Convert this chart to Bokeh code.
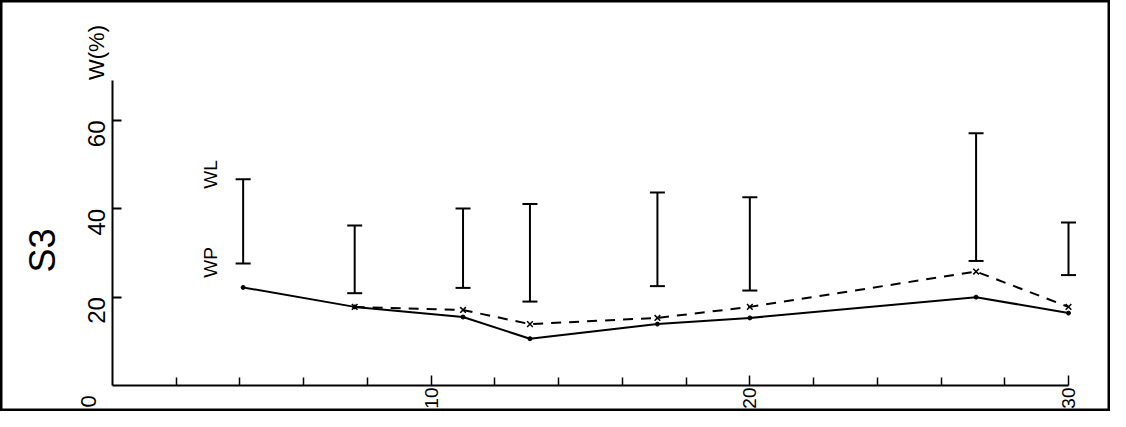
import math
from bokeh.plotting import figure
from bokeh.models import (ColumnDataSource, LinearAxis, FixedTicker, Whisker,
                          TeeHead, Range1d)
from bokeh.core.properties import value
from bokeh.embed import file_html
from bokeh.resources import INLINE

# ---- data ----
days = [4.1, 7.6, 11.0, 13.1, 17.1, 20.0, 27.1, 30.0]
wl = [46.7, 36.2, 40.1, 41.1, 43.7, 42.6, 57.1, 36.9]      # liquid limit (top of bar)
wp = [27.6, 20.9, 22.1, 19.0, 22.5, 21.5, 28.2, 25.0]      # plastic limit (bottom of bar)
w_solid = [22.2, 17.8, 15.5, 10.6, 13.9, 15.3, 20.0, 16.4]
w_dash_days = [7.6, 11.0, 13.1, 17.1, 20.0, 27.1, 30.0]
w_dash = [17.8, 17.1, 13.9, 15.3, 17.8, 25.8, 17.8]

x_major = [10, 20, 30]
x_minor = [2, 4, 6, 8, 12, 14, 16, 18, 22, 24, 26, 28]
y_major = [20, 40, 60]

FONT = "Liberation Sans"

p = figure(width=1110, height=411, output_backend="svg", toolbar_location=None,
           x_axis_type=None, y_axis_type=None,
           x_range=Range1d(-3.5146, 31.318), y_range=Range1d(-5.887, 87.17),
           min_border=0)
p.grid.visible = False
p.outline_line_color = "black"
p.outline_line_width = 4
p.background_fill_color = "white"
p.border_fill_color = "white"

# axes through the origin
xaxis = LinearAxis(fixed_location=0, bounds=(0, 30),
                   ticker=FixedTicker(ticks=x_major, minor_ticks=x_minor))
xaxis.axis_line_width = 2
xaxis.major_tick_in = 10
xaxis.major_tick_out = 0
xaxis.minor_tick_in = 8
xaxis.minor_tick_out = 0
xaxis.major_tick_line_width = 1.5
xaxis.minor_tick_line_width = 1.5
xaxis.major_label_orientation = math.pi / 2
xaxis.major_label_standoff = 2
xaxis.major_label_text_font = FONT
xaxis.major_label_text_font_size = "19px"
xaxis.major_label_text_color = "black"
p.add_layout(xaxis, "below")

yaxis = LinearAxis(fixed_location=0, bounds=(0, 69),
                   ticker=FixedTicker(ticks=y_major))
yaxis.axis_line_width = 2
yaxis.major_tick_in = 9
yaxis.major_tick_out = 0
yaxis.minor_tick_line_color = None
yaxis.major_tick_line_width = 2
yaxis.major_label_orientation = math.pi / 2
yaxis.major_label_standoff = 16
yaxis.major_label_text_font = FONT
yaxis.major_label_text_font_size = "24px"
yaxis.major_label_text_color = "black"
p.add_layout(yaxis, "left")

# error bars WP..WL
bars = ColumnDataSource(dict(x=days, upper=wl, lower=wp))
wh = Whisker(base="x", upper="upper", lower="lower", source=bars,
             line_color="black", line_width=2,
             upper_head=TeeHead(size=15, line_width=2, line_color="black"),
             lower_head=TeeHead(size=15, line_width=2, line_color="black"))
p.add_layout(wh)

# water content lines
p.line(days, w_solid, line_color="black", line_width=2)
p.scatter(days, w_solid, marker="circle", size=4, color="black")
p.line(w_dash_days, w_dash, line_color="black", line_width=2, line_dash="10 8")
p.scatter(w_dash_days, w_dash, marker="x", size=8, line_color="black", line_width=1.5)

# texts
txt = dict(angle=math.pi / 2, text_align="center", text_baseline="middle",
           text_color="black", text_font=value(FONT))
p.text(x=[-2.197], y=[30.57], text=["S3"], text_font_size="36px", **txt)
p.text(x=[-0.502], y=[75.4], text=["W(%)"], text_font_size="22px", **txt)
p.text(x=[3.075], y=[47.8], text=["WL"], text_font_size="19px", **txt)
p.text(x=[3.075], y=[27.85], text=["WP"], text_font_size="19px", **txt)
p.text(x=[-0.753], y=[-3.6], text=["0"], text_font_size="22px", **txt)

open("out.html", "w").write(file_html(p, INLINE))
